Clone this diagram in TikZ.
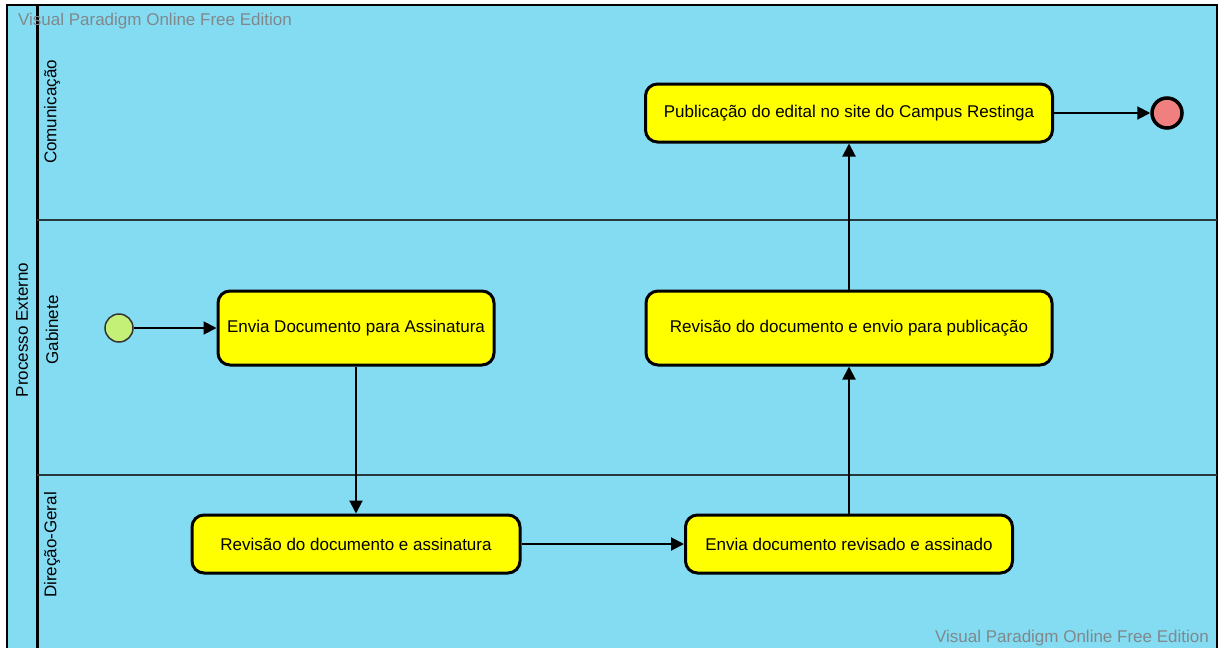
\documentclass[tikz,border=0pt]{standalone}
\usepackage{fontspec}
\setmainfont{Liberation Sans}
\usetikzlibrary{arrows.meta, positioning}

\definecolor{poolblue}{RGB}{132,220,243}
\definecolor{taskyellow}{RGB}{255,255,0}
\definecolor{startgreen}{RGB}{196,240,120}
\definecolor{endred}{RGB}{240,128,128}
\definecolor{markgray}{RGB}{128,136,140}
\definecolor{lanegray}{RGB}{40,55,60}

\begin{document}
\begin{tikzpicture}[
  x=1pt, y=-1pt,
  font=\fontsize{17}{20}\selectfont,
  >={Triangle[length=13pt, width=13pt]},
  task/.style={draw, line width=3pt, fill=taskyellow, rounded corners=12pt, inner sep=0pt},
  startev/.style={circle, draw=black!80, line width=1.5pt, fill=startgreen, minimum size=28pt, inner sep=0pt},
  endev/.style={circle, draw, line width=3.5pt, fill=endred, minimum size=30pt, inner sep=0pt},
  flow/.style={->, line width=2pt},
  lanename/.style={rotate=90},
  watermark/.style={text=markgray}
]
  \useasboundingbox (0,0) rectangle (1220,648);

  % pool and lanes
  \fill[poolblue] (7,5) rectangle (1217,648);
  \draw[line width=2pt] (7,648) -- (7,5) -- (1217,5) -- (1217,648);
  \draw[line width=3pt] (37,5) -- (37,648);
  \draw[lanegray, line width=1.5pt] (37,220) -- (1217,220);
  \draw[lanegray, line width=1.5pt] (37,475) -- (1217,475);

  \node[lanename] (pool)  at (22,330) {Processo Externo};
  \node[lanename] (comun) at (52,112) {Comunicação};
  \node[lanename] (gabin) at (52,330) {Gabinete};
  \node[lanename] (dirge) at (52,545) {Direção-Geral};

  \node[watermark] (marktop) at (155,21)  {Visual Paradigm Online Free Edition};
  \node[watermark] (markbot) at (1072,638) {Visual Paradigm Online Free Edition};

  % events and tasks
  \node[startev] (inicio) at (119,328) {};
  \node[task, minimum width=276pt, minimum height=74pt] (envia)     at (356,328) {Envia Documento para Assinatura};
  \node[task, minimum width=328pt, minimum height=58pt] (revassina) at (356,544) {Revisão do documento e assinatura};
  \node[task, minimum width=327pt, minimum height=58pt] (enviarev)  at (849,544) {Envia documento revisado e assinado};
  \node[task, minimum width=406pt, minimum height=74pt] (revpub)    at (849,328) {Revisão do documento e envio para publicação};
  \node[task, minimum width=407pt, minimum height=58pt] (publica)   at (849,113) {Publicação do edital no site do Campus Restinga};
  \node[endev] (fim) at (1167,113) {};

  \path[flow]
    (inicio)    edge (envia)
    (envia)     edge (revassina)
    (revassina) edge (enviarev)
    (enviarev)  edge (revpub)
    (revpub)    edge (publica)
    (publica)   edge (fim);
\end{tikzpicture}
\end{document}
